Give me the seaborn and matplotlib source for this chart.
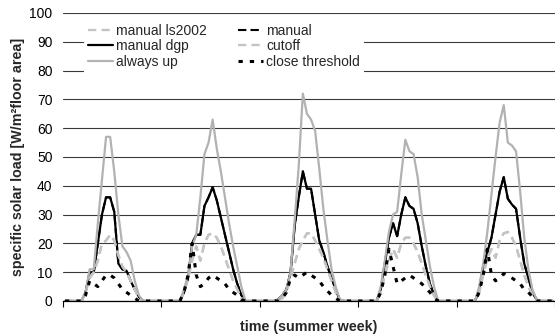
import numpy as np
import pandas as pd
import matplotlib
matplotlib.use("Agg")
import matplotlib.pyplot as plt
import seaborn as sns

# ---- data (hourly values, 5 summer days x 24 h) ----
always_up = (
    [0, 0, 0, 0, 0, 3, 11, 11, 27, 42, 57, 57, 45, 30, 19, 17, 14, 7, 2, 0, 0, 0, 0, 0]
    + [0, 0, 0, 0, 0, 4, 9, 19, 23, 36, 51, 55, 63, 53, 45, 36, 27, 19, 12, 5, 0, 0, 0, 0]
    + [0, 0, 0, 0, 0.5, 2, 4, 10, 28, 47, 72, 65, 63, 59, 46, 32, 21, 11, 5, 0.5, 0, 0, 0, 0]
    + [0, 0, 0, 0, 0, 5, 14, 24, 30, 31, 44, 56, 52, 51, 43, 30, 21, 12, 5, 0, 0, 0, 0, 0]
    + [0, 0, 0, 0, 0, 5, 13, 24, 37, 50, 62, 68, 55, 54, 52, 38, 22, 11, 4, 0.5, 0, 0, 0, 0]
)
manual_dgp = (
    [0, 0, 0, 0, 0, 3, 10, 10, 20, 30, 36, 36, 31, 13, 11, 10.5, 7, 4, 1.5, 0, 0, 0, 0, 0]
    + [0, 0, 0, 0, 0, 3, 8, 20, 23, 23, 33, 36, 39.5, 35, 29, 23, 17, 11, 6, 2, 0, 0, 0, 0]
    + [0, 0, 0, 0, 0.5, 2, 4, 10, 26, 36, 45, 39, 39, 30, 21, 17, 12, 8, 4, 0.5, 0, 0, 0, 0]
    + [0, 0, 0, 0, 0, 4, 13, 22, 27, 22.5, 30, 36, 33, 32, 27, 19, 12, 6, 2, 0, 0, 0, 0, 0]
    + [0, 0, 0, 0, 0, 4, 12, 17, 22, 30, 38, 43, 35.5, 33.5, 32, 22, 13, 8, 3, 0.5, 0, 0, 0, 0]
)
manual = (
    [0, 0, 0, 0, 0, 3, 10, 10, 20, 30, 36, 36, 31, 13, 11, 10.5, 7, 4, 1.5, 0, 0, 0, 0, 0]
    + [0, 0, 0, 0, 0, 3, 8, 20, 23, 23, 33, 36, 39.5, 35, 29, 23, 17, 11, 6, 2, 0, 0, 0, 0]
    + [0, 0, 0, 0, 0.5, 2, 4, 10, 26, 36, 45, 39, 39, 30, 21, 17, 12, 8, 4, 0.5, 0, 0, 0, 0]
    + [0, 0, 0, 0, 0, 4, 13, 22, 27, 22.5, 30, 36, 33, 32, 27, 19, 12, 6, 2, 0, 0, 0, 0, 0]
    + [0, 0, 0, 0, 0, 4, 12, 17, 22, 30, 38, 43, 35.5, 33.5, 32, 22, 13, 8, 3, 0.5, 0, 0, 0, 0]
)
manual_ls2002 = (
    [0, 0, 0, 0, 0, 3, 8, 10, 14, 20, 21, 23, 21, 16, 12, 10, 7, 4, 1, 0, 0, 0, 0, 0]
    + [0, 0, 0, 0, 0, 3, 8, 14, 19, 14, 20, 23, 23.5, 22, 19, 15, 11, 7, 4, 1, 0, 0, 0, 0]
    + [0, 0, 0, 0, 0, 1, 3, 8, 13, 18, 21, 23.5, 23.5, 21, 18, 15, 11, 7, 3, 0.5, 0, 0, 0, 0]
    + [0, 0, 0, 0, 0, 3, 9, 14, 18, 15, 20, 22, 22, 20, 17, 13, 9, 5, 2, 0, 0, 0, 0, 0]
    + [0, 0, 0, 0, 0, 3, 9, 15, 18, 15, 21, 23.5, 24, 22, 19, 14, 9, 5, 2, 0.5, 0, 0, 0, 0]
)
cutoff = (
    [0, 0, 0, 0, 0, 3, 8, 10, 14, 20, 21, 23, 21, 16, 12, 10, 7, 4, 1, 0, 0, 0, 0, 0]
    + [0, 0, 0, 0, 0, 3, 8, 14, 19, 14, 20, 23, 23.5, 22, 19, 15, 11, 7, 4, 1, 0, 0, 0, 0]
    + [0, 0, 0, 0, 0, 1, 3, 8, 13, 18, 21, 23.5, 23.5, 21, 18, 15, 11, 7, 3, 0.5, 0, 0, 0, 0]
    + [0, 0, 0, 0, 0, 3, 9, 14, 18, 15, 20, 22, 22, 20, 17, 13, 9, 5, 2, 0, 0, 0, 0, 0]
    + [0, 0, 0, 0, 0, 3, 9, 15, 18, 15, 21, 23.5, 24, 22, 19, 14, 9, 5, 2, 0.5, 0, 0, 0, 0]
)
close_threshold = (
    [0, 0, 0, 0, 0, 2, 7, 6, 5, 7, 9, 9, 8, 6, 4, 3, 2, 1, 0, 0, 0, 0, 0, 0]
    + [0, 0, 0, 0, 0, 3, 9, 20, 9, 5, 6, 8, 9, 8, 7, 6, 4, 3, 2, 0.5, 0, 0, 0, 0]
    + [0, 0, 0, 0, 0, 1, 3, 8, 9, 8, 9, 10, 9, 8, 7, 5, 3.5, 2, 1, 0, 0, 0, 0, 0]
    + [0, 0, 0, 0, 0, 3, 9, 18, 12, 6, 7, 8, 9, 8, 7, 6, 4.5, 3, 1, 0, 0, 0, 0, 0]
    + [0, 0, 0, 0, 0, 3, 9, 18, 9, 7, 8, 9.5, 9, 8, 7, 6, 4, 3, 1.5, 0, 0, 0, 0, 0]
)
y_ticks = [0, 10, 20, 30, 40, 50, 60, 70, 80, 90, 100]
n_days = 5
hours_per_day = 24

# ---- style ----
sns.set_style("white")
plt.rcParams["font.family"] = ["Liberation Sans", "DejaVu Sans"]

fig = plt.figure(figsize=(5.55, 3.36), dpi=100)
ax = fig.add_axes([63 / 555, 35 / 336, 492 / 555, 288 / 336])

n = len(always_up)
x = np.arange(n) + 0.5

series = [
    ("manual", manual, "#000000", 1.5, (4, 2)),
    ("manual dgp", manual_dgp, "#000000", 1.6, None),
    ("manual ls2002", manual_ls2002, "#c4c4c4", 1.7, (3.5, 2.2)),
    ("cutoff", cutoff, "#c4c4c4", 1.7, (3.5, 2.2)),
    ("always up", always_up, "#b2b2b2", 1.6, None),
    ("close threshold", close_threshold, "#000000", 2.2, (1.4, 2.3)),
]
handles = {}
for name, vals, col, lw, dash in series:
    sns.lineplot(x=x, y=np.array(vals, dtype=float), ax=ax, color=col, lw=lw,
                 label=name, legend=False)
    ln = ax.lines[-1]
    if dash is not None:
        ln.set_dashes(dash)
    handles[name] = ln

ax.set_xlim(0, n)
ax.set_ylim(0, 100)
ax.set_yticks(y_ticks)
ax.set_yticklabels([str(v) for v in y_ticks])
ax.set_xticks(np.arange(0, n + 1, hours_per_day))
ax.set_xticklabels([])
ax.yaxis.grid(True, color="#3a3a3a", lw=0.8)
ax.xaxis.grid(False)
ax.set_axisbelow(True)
for s in ["top", "right", "left"]:
    ax.spines[s].set_visible(False)
ax.spines["bottom"].set_color("#000000")
ax.spines["bottom"].set_linewidth(0.9)
ax.tick_params(axis="x", direction="out", length=4, width=0.8, color="#000000", bottom=True)
ax.tick_params(axis="y", length=0, pad=7.5, labelsize=10, labelcolor="#000000")

ax.set_ylabel("specific solar load [W/m²floor area]", fontsize=10.3, fontweight="bold",
              labelpad=3)
ax.set_xlabel("time (summer week)", fontsize=10.3, fontweight="bold", labelpad=6.5)

order = ["manual ls2002", "manual dgp", "always up", "manual", "cutoff", "close threshold"]
leg = ax.legend([handles[k] for k in order], order, ncol=2, loc="upper left",
                bbox_to_anchor=(0.043, 0.978), fontsize=10, frameon=True,
                handlelength=1.8, handletextpad=0.2, columnspacing=2.25,
                labelspacing=0.12, borderpad=0.3, borderaxespad=0)
leg.get_frame().set_facecolor("white")
leg.get_frame().set_edgecolor("none")
leg.get_frame().set_alpha(1)
leg.get_frame().set_boxstyle("square", pad=0)

fig.savefig("out.png", dpi=100)
